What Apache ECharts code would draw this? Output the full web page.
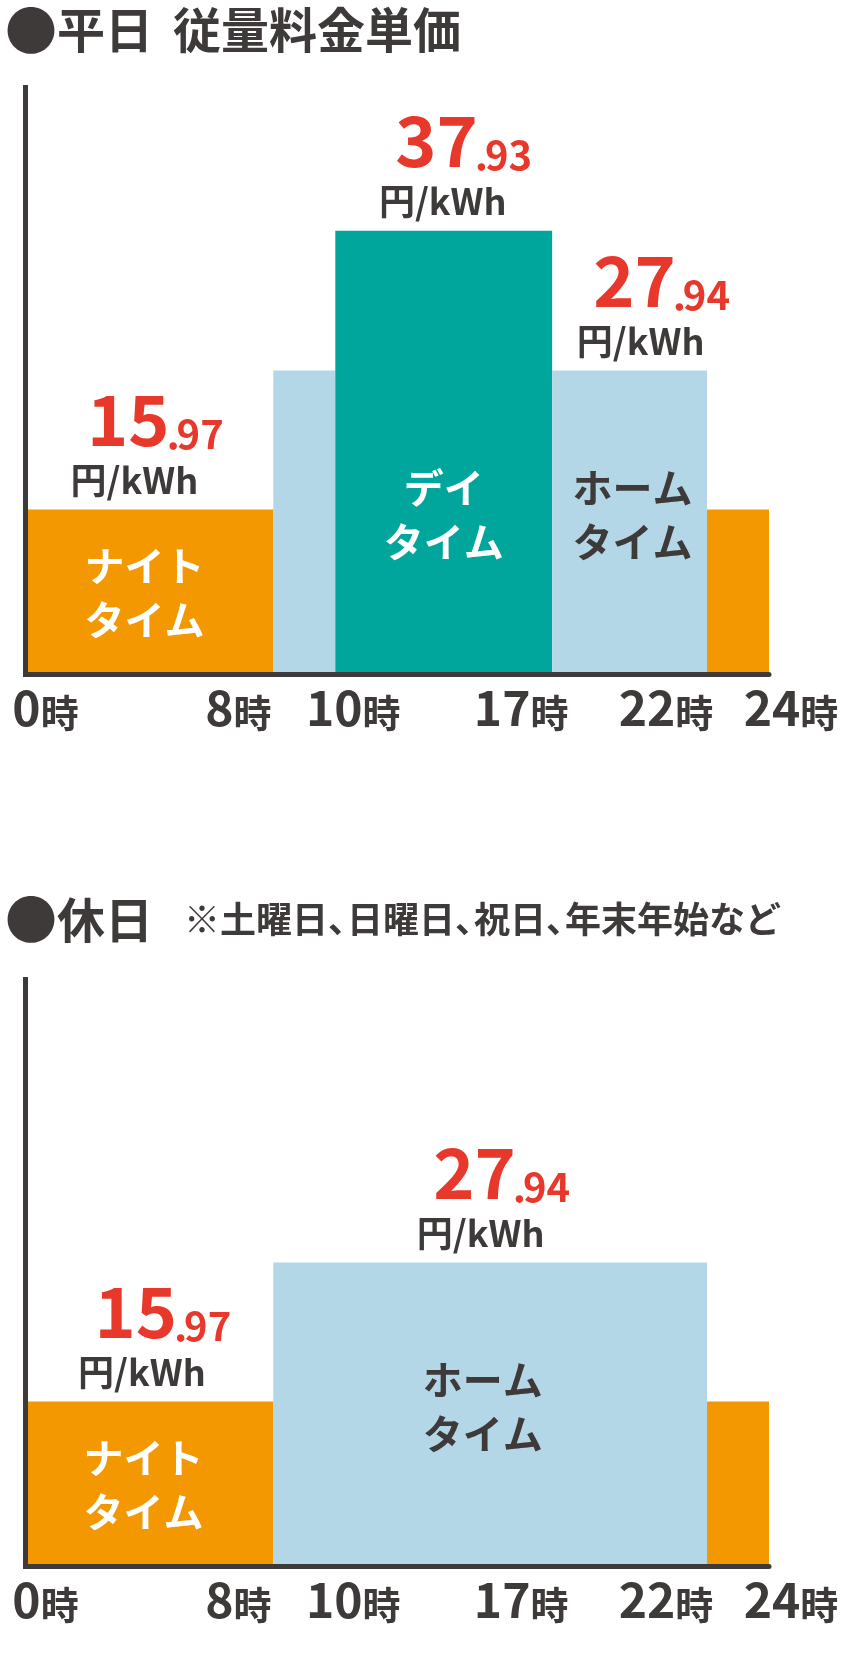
<!DOCTYPE html>
<html><head><meta charset="utf-8">
<script src="https://cdn.jsdelivr.net/npm/echarts@6/dist/echarts.min.js"></script>
<style>html,body{margin:0;padding:0;background:#fff}#c{width:844px;height:1655px}</style>
</head><body><div id="c"></div>
<script>
// ---------------- data ----------------
const hourTicks = [0, 8, 10, 17, 22, 24];
const planKeys = ['night', 'day', 'home'];
const planNames = ['ナイト\nタイム', 'デイ\nタイム', 'ホーム\nタイム'];
const planPrices = [15.97, 37.93, 27.94];          // 円/kWh
const planBarHeights = [28.1, 75.6, 51.8];         // drawn bar height (% of axis height)
const weekdayStart = [0, 8, 10, 17, 22];
const weekdayEnd = [8, 10, 17, 22, 24];
const weekdayPlan = ['night', 'home', 'day', 'home', 'night'];
const weekdayLabelled = [true, false, true, true, false];
const holidayStart = [0, 8, 22];
const holidayEnd = [8, 22, 24];
const holidayPlan = ['night', 'home', 'night'];
const holidayLabelled = [true, true, false];
const titleWeekday = ['平日', '従量料金単価'];
const titleHoliday = ['休日', '※土曜日、日曜日、祝日、年末年始など'];
const hourUnit = '時';
const priceUnit = '円/kWh';

// ---------------- styles / layout ----------------
const COLORS = { night: '#f39800', day: '#00a69c', home: '#b4d7e8' };
const NAME_COLOR = { night: '#ffffff', day: '#ffffff', home: '#3e3a39' };
const DARK = '#3e3a39', RED = '#e8382b';
const FONT = '"Noto Sans CJK JP", "Noto Sans CJK SC", sans-serif';
const LAYOUT = {
  grids: [
    { left: 25.5, top: 87.5, width: 743.5, height: 587, outerBoundsMode: 'none', containLabel: false },
    { left: 25.5, top: 979.5, width: 743.5, height: 587, outerBoundsMode: 'none', containLabel: false }
  ],
  priceShift: [[-15, 0, -1, 11, 0], [-7.5, -9.5, 0]],
  nameShift: [[-5, 0, 0, 3, 0], [-6, -7.5, 0]],
  tickShift: [20, -35, 18, -31, -41, 22]
};

function makeRenderer(plans, labelled, priceShift, nameShift) {
  return function (params, api) {
    const i = params.dataIndex;
    const key = plans[i];
    const pi = planKeys.indexOf(key);
    const pb = api.coord([api.value(0), 0]);
    const pt = api.coord([api.value(1), api.value(2)]);
    const x0 = pb[0], x1 = pt[0], yb = pb[1], yt = pt[1];
    const children = [{
      type: 'rect',
      shape: { x: x0, y: yt, width: x1 - x0, height: yb - yt },
      style: { fill: COLORS[key] }
    }];
    if (labelled[i]) {
      const cx = (x0 + x1) / 2;
      const parts = planPrices[pi].toFixed(2).split('.');
      children.push({
        type: 'text', z2: 10,
        style: {
          x: cx + priceShift[i] + 21, y: yt - 55.5,
          text: '{b|' + parts[0] + '}{p|.}{s|' + parts[1] + '}',
          align: 'center', verticalAlign: 'bottom',
          rich: {
            b: { fontSize: 70, fontWeight: 'bold', fontFamily: FONT, fill: RED, lineHeight: 70, verticalAlign: 'bottom' },
            p: { fontSize: 41, fontWeight: 'bold', fontFamily: FONT, fill: RED, lineHeight: 45, verticalAlign: 'bottom', width: 7, align: 'center' },
            s: { fontSize: 40, fontWeight: 'bold', fontFamily: FONT, fill: RED, lineHeight: 44, verticalAlign: 'bottom' }
          }
        }
      });
      children.push({
        type: 'text', z2: 10,
        style: {
          x: cx + priceShift[i], y: yt - 29, text: priceUnit,
          align: 'center', verticalAlign: 'middle',
          fontSize: 36, fontWeight: 'bold', fontFamily: FONT, fill: DARK
        }
      });
      let nameY;
      if (key === 'night') {
        nameY = (yb + yt) / 2 + 3;
      } else {
        const yh = api.coord([0, planBarHeights[planKeys.indexOf('home')]])[1];
        nameY = (yb + yh) / 2 - 6;
      }
      children.push({
        type: 'text', z2: 10,
        style: {
          x: cx + nameShift[i], y: nameY - 2, text: planNames[pi],
          align: 'center', verticalAlign: 'middle',
          fontSize: 40, fontWeight: 'bold', fontFamily: FONT, lineHeight: 54,
          fill: NAME_COLOR[key]
        }
      });
    }
    return { type: 'group', children: children };
  };
}

// hour tick labels, placed through the x scale of each grid
const tickRich = {
  n: { fontSize: 48, fontWeight: 'bold', fontFamily: FONT, fill: DARK, lineHeight: 48, verticalAlign: 'bottom' },
  u: { fontSize: 38, fontWeight: 'bold', fontFamily: FONT, fill: DARK, lineHeight: 38, verticalAlign: 'bottom' }
};
function tickRenderer(params, api) {
  const i = params.dataIndex;
  const p = api.coord([api.value(0), 0]);
  return {
    type: 'text', z2: 20,
    style: {
      x: p[0] + LAYOUT.tickShift[i], y: p[1] + 9,
      text: '{n|' + hourTicks[i] + '}{u|' + hourUnit + '}',
      align: 'center', verticalAlign: 'top', rich: tickRich
    }
  };
}

function xAxisFor(k) {
  return {
    gridIndex: k, type: 'value', min: 0, max: 24, z: 10,
    axisLine: { show: true, onZero: false, lineStyle: { color: DARK, width: 5 } },
    axisTick: { show: false }, splitLine: { show: false }, axisLabel: { show: false }
  };
}
function yAxisFor(k) {
  return {
    gridIndex: k, type: 'value', min: 0, max: 100, z: 10,
    axisLine: { show: true, lineStyle: { color: DARK, width: 5, cap: 'square' } },
    axisTick: { show: false }, axisLabel: { show: false }, splitLine: { show: false }
  };
}
function titleRich() {
  return {
    d: { fontSize: 52, fontFamily: FONT, color: DARK, lineHeight: 56, verticalAlign: 'middle' },
    t: { fontSize: 48, fontWeight: 'bold', fontFamily: FONT, color: DARK, lineHeight: 56, verticalAlign: 'middle' },
    t2: { fontSize: 48, fontWeight: 'bold', fontFamily: FONT, color: DARK, lineHeight: 56, verticalAlign: 'middle', padding: [0, 0, 0, 20] },
    n0: { fontSize: 36, fontWeight: 'bold', fontFamily: FONT, color: DARK, lineHeight: 56, verticalAlign: 'middle', padding: [0, 0, 0, 31] },
    n: { fontSize: 36, fontWeight: 'bold', fontFamily: FONT, color: DARK, lineHeight: 56, verticalAlign: 'middle' },
    c: { fontSize: 36, fontWeight: 'bold', fontFamily: FONT, color: DARK, lineHeight: 56, verticalAlign: 'middle', width: 19, align: 'left' }
  };
}
// note text with compact (proportional) ideographic commas
function noteText(s) {
  const parts = s.split('、');
  return parts.map(function (p, i) { return '{' + (i === 0 ? 'n0' : 'n') + '|' + p + '}'; }).join('{c|、}');
}

const chart = echarts.init(document.getElementById('c'), null, { renderer: 'canvas' });
chart.setOption({
  animation: false,
  backgroundColor: '#ffffff',
  title: [
    { left: 5, top: 1.8, padding: 0, text: '{d|●}{t|' + titleWeekday[0] + '}{t2|' + titleWeekday[1] + '}', textStyle: { rich: titleRich() } },
    { left: 5, top: 891.3, padding: 0, text: '{d|●}{t|' + titleHoliday[0] + '}' + noteText(titleHoliday[1]), textStyle: { rich: titleRich() } }
  ],
  grid: LAYOUT.grids,
  xAxis: [xAxisFor(0), xAxisFor(1)],
  yAxis: [yAxisFor(0), yAxisFor(1)],
  series: [
    {
      type: 'custom', xAxisIndex: 0, yAxisIndex: 0, silent: true, clip: false,
      renderItem: makeRenderer(weekdayPlan, weekdayLabelled, LAYOUT.priceShift[0], LAYOUT.nameShift[0]),
      encode: { x: [0, 1], y: 2 },
      data: weekdayStart.map(function (s, i) { return [s, weekdayEnd[i], planBarHeights[planKeys.indexOf(weekdayPlan[i])]]; })
    },
    {
      type: 'custom', xAxisIndex: 1, yAxisIndex: 1, silent: true, clip: false,
      renderItem: makeRenderer(holidayPlan, holidayLabelled, LAYOUT.priceShift[1], LAYOUT.nameShift[1]),
      encode: { x: [0, 1], y: 2 },
      data: holidayStart.map(function (s, i) { return [s, holidayEnd[i], planBarHeights[planKeys.indexOf(holidayPlan[i])]]; })
    },
    {
      type: 'custom', xAxisIndex: 0, yAxisIndex: 0, silent: true, clip: false, z: 20,
      renderItem: tickRenderer, encode: { x: 0 },
      data: hourTicks.map(function (v) { return [v]; })
    },
    {
      type: 'custom', xAxisIndex: 1, yAxisIndex: 1, silent: true, clip: false, z: 20,
      renderItem: tickRenderer, encode: { x: 0 },
      data: hourTicks.map(function (v) { return [v]; })
    }
  ]
});
</script>
</body></html>
